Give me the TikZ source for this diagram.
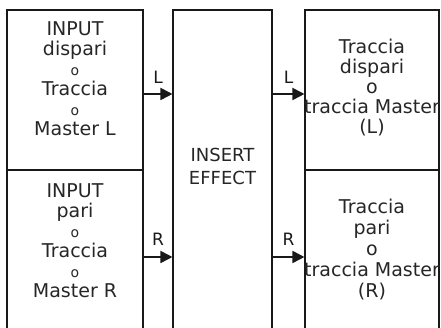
\documentclass[tikz,border=0pt]{standalone}
\usepackage{fontspec}
\setmainfont{DejaVu Sans}
\usetikzlibrary{arrows.meta}
\begin{document}
\begin{tikzpicture}[x=1pt,y=-1pt,
  box/.style={draw=black!90, line width=1.1pt, inner sep=0pt},
  txt/.style={align=center, inner sep=0pt, anchor=north, text=black!85, font=\fontsize{19}{20}\selectfont},
  arr/.style={line width=1.8pt, -{Triangle[length=12pt,width=12pt]}, draw=black!90, fill=black!90},
  lab/.style={font=\fontsize{17}{18}\selectfont, text=black!90, inner sep=0pt}]
\useasboundingbox (0,0) rectangle (441,328);
\clip (0,0) rectangle (441,328);
\node[box, minimum width=136pt, minimum height=160pt] (inL) at (75,90) {};
\node[box, minimum width=136pt, minimum height=170pt] (inR) at (75,255) {};
\node[box, minimum width=99pt, minimum height=330pt] (fx) at (222.5,175) {};
\node[box, minimum width=134pt, minimum height=160pt] (outL) at (372,90) {};
\node[box, minimum width=134pt, minimum height=170pt] (outR) at (372,255) {};
\node[txt] (tInL) at (75,21) {INPUT\\dispari\\{\fontsize{14}{20}\selectfont o}\\Traccia\\{\fontsize{14}{20}\selectfont o}\\Master L};
\node[txt] (tInR) at (75,183) {INPUT\\pari\\{\fontsize{14}{20}\selectfont o}\\Traccia\\{\fontsize{14}{20}\selectfont o}\\Master R};
\node[txt, font=\fontsize{18}{23}\selectfont] (tFx) at (222.5,148) {INSERT\\EFFECT};
\node[txt] (tOutL) at (372,39) {Traccia\\dispari\\o\\traccia Master\\(L)};
\node[txt, font=\fontsize{19}{21}\selectfont] (tOutR) at (372,199) {Traccia\\pari\\o\\traccia Master\\(R)};
\draw[arr] ([yshift=-4pt]inL.east) -- ([yshift=-4pt]inL.east -| fx.west) node[lab, midway, yshift=17pt] (lL) {L};
\draw[arr] ([yshift=-2pt]inR.east) -- ([yshift=-2pt]inR.east -| fx.west) node[lab, midway, yshift=18pt] (lR) {R};
\draw[arr] ([yshift=-4pt]outL.west -| fx.east) -- ([yshift=-4pt]outL.west) node[lab, midway, yshift=17pt] (oL) {L};
\draw[arr] ([yshift=-2pt]outR.west -| fx.east) -- ([yshift=-2pt]outR.west) node[lab, midway, yshift=18pt] (oR) {R};
\end{tikzpicture}
\end{document}
